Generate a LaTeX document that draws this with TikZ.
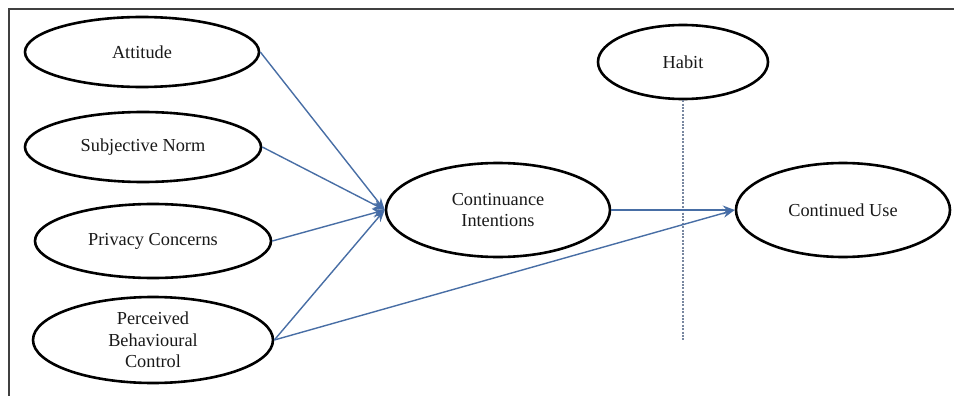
\documentclass[tikz,border=0pt]{standalone}
\usepackage{fontspec}
\setmainfont{Liberation Serif}
\usetikzlibrary{shapes.geometric,arrows.meta}
\begin{document}
\begin{tikzpicture}[x=1pt,y=-1pt,
  construct/.style={ellipse,draw=black,line width=2.6pt,inner sep=0pt,align=center,
    font=\fontsize{18.3}{21.5}\selectfont,text=black!90},
  link/.style={draw={rgb,255:red,72;green,110;blue,165},line width=1.4pt,
    -{Stealth[length=12pt,width=9pt,fill={rgb,255:red,55;green,100;blue,185}]}},
  habitline/.style={draw={rgb,255:red,120;green,135;blue,160},line width=1.8pt,dash pattern=on 2pt off 1.4pt}]
\useasboundingbox (0,0) rectangle (954,396);
\fill[white] (0,0) rectangle (954,396);
\draw[black!75,line width=1.5pt] (9,396) -- (9,9) -- (954,9);
\node[construct,minimum width=234pt,minimum height=70pt] (att) at (142,52) {Attitude};
\node[construct,minimum width=236pt,minimum height=70pt] (sn) at (143,147) {Subjective Norm};
\node[construct,minimum width=236pt,minimum height=74pt] (pc) at (153,241) {Privacy Concerns};
\node[construct,minimum width=240pt,minimum height=86pt] (pbc) at (153,340) {Perceived\\Behavioural\\Control};
\node[construct,minimum width=224pt,minimum height=94pt] (ci) at (498,210) {Continuance\\Intentions};
\node[construct,minimum width=170pt,minimum height=74pt] (hab) at (683,62) {Habit};
\node[construct,minimum width=214pt,minimum height=94pt] (cu) at (843,210) {Continued Use};
\coordinate (hend) at (683,340);
\draw[habitline] (hab.south) -- (hend);
\draw[link] (att.east) -- (ci.west);
\draw[link] (sn.east) -- (ci.west);
\draw[link] (pc.east) -- (ci.west);
\draw[link] (pbc.east) -- (ci.west);
\draw[link] (ci.east) -- (cu.west);
\draw[link] (pbc.east) -- (cu.west);
\end{tikzpicture}
\end{document}
